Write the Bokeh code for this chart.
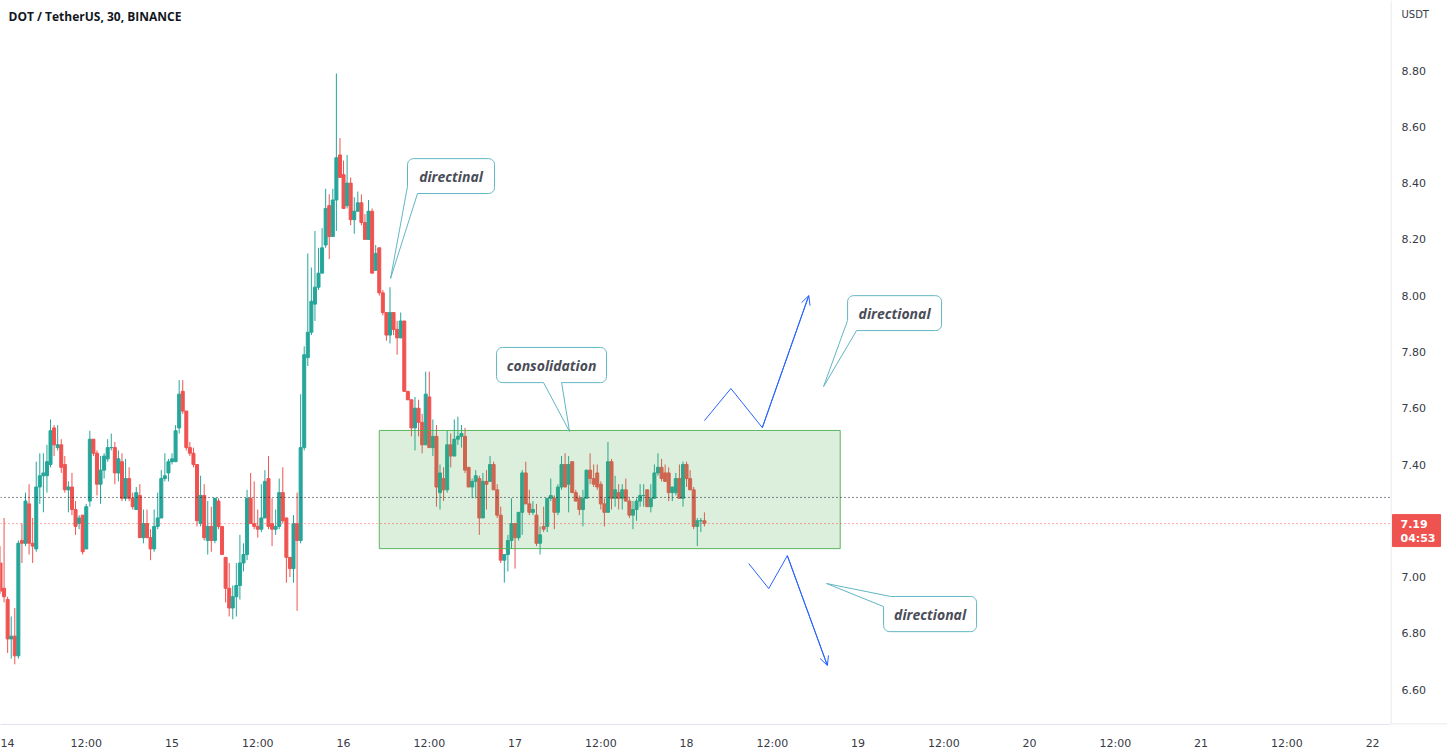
import numpy as np
from bokeh.plotting import figure
from bokeh.layouts import row
from bokeh.models import (Range1d, FixedTicker, Span, Label, Arrow, OpenHead,
                          ColumnDataSource)
from bokeh.core.properties import value
from bokeh.embed import file_html
from bokeh.resources import INLINE

# ---------------- data (DOT / TetherUS, 30 min, BINANCE) ----------------
# one candle per 30 minutes, first candle at day 14 00:00
opens = [
    7.05, 6.96, 6.92, 6.78, 6.79, 6.72, 7.13, 7.12, 7.26, 7.12,
    7.10, 7.32, 7.36, 7.36, 7.40, 7.53, 7.46, 7.47, 7.40, 7.31,
    7.32, 7.24, 7.19, 7.22, 7.10, 7.27, 7.49, 7.44, 7.33, 7.38,
    7.42, 7.46, 7.46, 7.37, 7.41, 7.28, 7.35, 7.28, 7.24, 7.29,
    7.14, 7.19, 7.14, 7.10, 7.18, 7.21, 7.35, 7.37, 7.41, 7.41,
    7.53, 7.66, 7.59, 7.46, 7.44, 7.40, 7.19, 7.29, 7.13, 7.18,
    7.13, 7.27, 7.18, 7.07, 6.96, 6.89, 6.93, 6.97, 7.05, 7.08,
    7.28, 7.19, 7.18, 7.17, 7.21, 7.35, 7.19, 7.17, 7.18, 7.30,
    7.21, 7.07, 7.03, 7.19, 7.13, 7.46, 7.78, 7.87, 7.97, 8.03,
    8.08, 8.18, 8.32, 8.21, 8.34, 8.50, 8.43, 8.32, 8.40, 8.27,
    8.30, 8.33, 8.26, 8.20, 8.30, 8.09, 8.17, 8.01, 7.94, 7.86,
    7.94, 7.88, 7.85, 7.91, 7.66, 7.63, 7.53, 7.60, 7.55, 7.47,
    7.64, 7.46, 7.50, 7.30, 7.35, 7.31, 7.47, 7.43, 7.49, 7.50,
    7.50, 7.39, 7.32, 7.34, 7.35, 7.21, 7.34, 7.34, 7.40, 7.31,
    7.22, 7.06, 7.08, 7.13, 7.19, 7.14, 7.23, 7.37, 7.26, 7.23,
    7.22, 7.12, 7.18, 7.18, 7.28, 7.28, 7.23, 7.32, 7.40, 7.33,
    7.41, 7.30, 7.28, 7.24, 7.28, 7.38, 7.35, 7.37, 7.33, 7.26,
    7.23, 7.41, 7.28, 7.30, 7.28, 7.31, 7.27, 7.22, 7.24, 7.27,
    7.29, 7.31, 7.25, 7.28, 7.37, 7.39, 7.37, 7.37, 7.30, 7.30,
    7.35, 7.28, 7.40, 7.35, 7.31, 7.18, 7.20, 7.20,
]
highs = [
    7.11, 7.21, 6.93, 6.86, 6.89, 7.13, 7.19, 7.30, 7.33, 7.21,
    7.41, 7.44, 7.44, 7.47, 7.56, 7.54, 7.54, 7.49, 7.43, 7.34,
    7.37, 7.27, 7.22, 7.22, 7.26, 7.52, 7.49, 7.45, 7.43, 7.44,
    7.49, 7.51, 7.48, 7.45, 7.44, 7.42, 7.39, 7.30, 7.32, 7.33,
    7.24, 7.24, 7.17, 7.24, 7.30, 7.38, 7.44, 7.42, 7.44, 7.54,
    7.70, 7.70, 7.59, 7.48, 7.46, 7.40, 7.36, 7.33, 7.27, 7.25,
    7.28, 7.28, 7.18, 7.07, 7.05, 6.97, 7.05, 7.15, 7.12, 7.31,
    7.37, 7.34, 7.24, 7.33, 7.38, 7.43, 7.28, 7.24, 7.35, 7.39,
    7.21, 7.07, 7.22, 7.30, 7.65, 7.82, 8.15, 8.10, 8.23, 8.17,
    8.24, 8.38, 8.36, 8.38, 8.79, 8.56, 8.48, 8.50, 8.42, 8.35,
    8.37, 8.36, 8.29, 8.34, 8.31, 8.18, 8.17, 8.02, 7.94, 8.03,
    7.94, 7.91, 7.94, 7.91, 7.66, 7.63, 7.64, 7.63, 7.58, 7.73,
    7.73, 7.56, 7.54, 7.40, 7.39, 7.52, 7.51, 7.56, 7.57, 7.54,
    7.53, 7.39, 7.35, 7.38, 7.36, 7.37, 7.38, 7.43, 7.41, 7.33,
    7.25, 7.08, 7.15, 7.28, 7.19, 7.23, 7.38, 7.41, 7.31, 7.27,
    7.26, 7.18, 7.25, 7.28, 7.35, 7.29, 7.33, 7.43, 7.44, 7.43,
    7.41, 7.31, 7.29, 7.31, 7.38, 7.44, 7.40, 7.40, 7.34, 7.28,
    7.48, 7.42, 7.36, 7.33, 7.33, 7.35, 7.28, 7.27, 7.28, 7.33,
    7.33, 7.31, 7.33, 7.40, 7.44, 7.42, 7.40, 7.39, 7.32, 7.37,
    7.40, 7.41, 7.41, 7.38, 7.32, 7.21, 7.21, 7.23,
]
lows = [
    6.94, 6.91, 6.73, 6.71, 6.69, 6.71, 7.05, 7.11, 7.08, 7.05,
    7.09, 7.26, 7.23, 7.30, 7.39, 7.43, 7.45, 7.37, 7.30, 7.23,
    7.22, 7.15, 7.17, 7.08, 7.10, 7.25, 7.43, 7.29, 7.26, 7.35,
    7.41, 7.45, 7.33, 7.34, 7.27, 7.27, 7.27, 7.24, 7.24, 7.14,
    7.12, 7.14, 7.06, 7.09, 7.17, 7.21, 7.34, 7.34, 7.40, 7.41,
    7.51, 7.58, 7.45, 7.43, 7.39, 7.18, 7.18, 7.13, 7.08, 7.09,
    7.12, 7.17, 7.08, 6.91, 6.86, 6.85, 6.86, 6.92, 7.02, 7.06,
    7.19, 7.17, 7.14, 7.16, 7.21, 7.17, 7.11, 7.15, 7.17, 7.19,
    6.98, 7.00, 6.98, 6.88, 7.12, 7.45, 7.75, 7.86, 7.91, 8.02,
    8.08, 8.17, 8.13, 8.21, 8.23, 8.42, 8.31, 8.31, 8.25, 8.22,
    8.30, 8.25, 8.20, 8.20, 8.08, 8.09, 8.00, 7.93, 7.84, 7.83,
    7.86, 7.79, 7.85, 7.66, 7.63, 7.50, 7.45, 7.50, 7.44, 7.47,
    7.46, 7.43, 7.25, 7.24, 7.27, 7.30, 7.39, 7.43, 7.47, 7.46,
    7.37, 7.32, 7.28, 7.28, 7.15, 7.21, 7.24, 7.34, 7.31, 7.21,
    7.05, 6.98, 7.02, 7.10, 7.03, 7.13, 7.15, 7.26, 7.22, 7.22,
    7.11, 7.08, 7.16, 7.16, 7.27, 7.17, 7.22, 7.31, 7.32, 7.23,
    7.30, 7.27, 7.22, 7.18, 7.28, 7.33, 7.32, 7.31, 7.24, 7.18,
    7.23, 7.24, 7.25, 7.24, 7.24, 7.27, 7.21, 7.17, 7.20, 7.25,
    7.25, 7.25, 7.23, 7.28, 7.36, 7.34, 7.34, 7.27, 7.27, 7.29,
    7.28, 7.25, 7.32, 7.31, 7.17, 7.11, 7.16, 7.18,
]
closes = [
    6.95, 6.93, 6.78, 6.79, 6.72, 7.12, 7.12, 7.27, 7.12, 7.11,
    7.32, 7.36, 7.37, 7.41, 7.52, 7.47, 7.47, 7.39, 7.31, 7.32,
    7.24, 7.18, 7.21, 7.09, 7.25, 7.49, 7.44, 7.33, 7.38, 7.43,
    7.46, 7.46, 7.37, 7.42, 7.28, 7.35, 7.28, 7.25, 7.30, 7.14,
    7.19, 7.14, 7.10, 7.18, 7.21, 7.35, 7.36, 7.41, 7.42, 7.52,
    7.65, 7.59, 7.46, 7.44, 7.40, 7.20, 7.29, 7.14, 7.18, 7.13,
    7.28, 7.18, 7.08, 6.96, 6.89, 6.93, 6.97, 7.05, 7.08, 7.28,
    7.19, 7.18, 7.17, 7.21, 7.34, 7.18, 7.17, 7.18, 7.30, 7.20,
    7.07, 7.03, 7.19, 7.13, 7.46, 7.79, 7.87, 7.98, 8.03, 8.08,
    8.17, 8.31, 8.21, 8.34, 8.49, 8.42, 8.31, 8.40, 8.27, 8.30,
    8.33, 8.26, 8.20, 8.30, 8.08, 8.15, 8.01, 7.94, 7.86, 7.94,
    7.88, 7.85, 7.91, 7.66, 7.63, 7.53, 7.60, 7.55, 7.47, 7.65,
    7.46, 7.50, 7.32, 7.37, 7.31, 7.47, 7.43, 7.49, 7.50, 7.51,
    7.38, 7.32, 7.34, 7.36, 7.21, 7.34, 7.33, 7.40, 7.31, 7.22,
    7.06, 7.08, 7.13, 7.19, 7.14, 7.23, 7.37, 7.26, 7.23, 7.24,
    7.12, 7.15, 7.17, 7.28, 7.29, 7.23, 7.32, 7.40, 7.32, 7.40,
    7.30, 7.27, 7.24, 7.28, 7.38, 7.35, 7.33, 7.32, 7.26, 7.23,
    7.41, 7.28, 7.31, 7.28, 7.31, 7.27, 7.22, 7.24, 7.27, 7.29,
    7.29, 7.25, 7.28, 7.37, 7.39, 7.35, 7.34, 7.30, 7.32, 7.35,
    7.28, 7.40, 7.35, 7.31, 7.18, 7.20, 7.20, 7.19,
]
assert len(opens) == len(highs) == len(lows) == len(closes)

bar_hours = 0.5  # 30-minute candles, x axis in hours from day 14 00:00

# axis ticks
time_ticks = [0, 12, 24, 36, 48, 60, 72, 84, 96, 108, 120, 132, 144, 156, 168, 180, 192]
time_labels = ["14", "12:00", "15", "12:00", "16", "12:00", "17", "12:00", "18",
               "12:00", "19", "12:00", "20", "12:00", "21", "12:00", "22"]
price_ticks = [6.6, 6.8, 7.0, 7.2, 7.4, 7.6, 7.8, 8.0, 8.2, 8.4, 8.6, 8.8]
price_currency = "USDT"

last_price = 7.19
countdown = "04:53"
ref_price = 7.283

# drawings
zone_left, zone_right, zone_bottom, zone_top = 53.0, 117.5, 7.101, 7.521
up_path_x = [98.5, 102.2, 106.6, 113.1]
up_path_y = [7.556, 7.670, 7.531, 8.000]
down_path_x = [104.7, 107.5, 110.1, 115.7]
down_path_y = [7.048, 6.959, 7.076, 6.686]

callout_texts = ["directinal", "consolidation", "directional", "directional"]
callout_boxes = [  # left, right, bottom, top
    (56.95, 69.13, 8.363, 8.487),
    (69.41, 84.80, 7.691, 7.816),
    (118.53, 131.68, 7.876, 8.000),
    (123.57, 136.58, 6.806, 6.931),
]
callout_tails = [  # kind, a, b, tip
    ("bl", 58.35, 8.388, (54.58, 8.061)),
    ("bottom", 75.99, 78.51, (79.63, 7.517)),
    ("bl", 119.79, 7.912, (115.17, 7.677)),
    ("tl", 124.55, 6.895, (115.59, 6.977)),
]

# ---------------- figures ----------------
W, H = 1447, 752
RIGHT, BOTTOM = 57, 28
X0, X1 = 0.0, 194.5
Y0, Y1 = 6.476, 9.049

UP, DOWN = "#26a69a", "#ef5350"
BLUE = "#2962ff"
CALLOUT = "#62b6c4"
TXT = "#363a45"
GRIDLINE = "#e0e3eb"

yr = Range1d(Y0, Y1)
p = figure(width=W - RIGHT, height=H, output_backend="svg", toolbar_location=None,
           x_range=Range1d(X0, X1), y_range=yr, y_axis_location=None,
           min_border_left=0, min_border_top=0, min_border_right=0,
           min_border_bottom=BOTTOM,
           background_fill_color="white", border_fill_color="white")
p.outline_line_color = None
p.xgrid.visible = False
p.ygrid.visible = False

PXH = (W - RIGHT) / (X1 - X0)
PXP = (H - BOTTOM) / (Y1 - Y0)

# candles
o = np.array(opens); h = np.array(highs); l = np.array(lows); c = np.array(closes)
x = np.arange(len(o)) * bar_hours
cols = [UP if cc >= oo else DOWN for oo, cc in zip(o, c)]
src = ColumnDataSource(dict(x=x, o=o, h=h, l=l, c=c,
                            top=np.maximum(o, c), bot=np.minimum(o, c), col=cols))
p.segment(x0="x", y0="l", x1="x", y1="h", color="col", line_width=1, source=src)
p.vbar(x="x", width=0.42, top="top", bottom="bot", fill_color="col",
       line_color="col", line_width=1, source=src)

# price lines
p.add_layout(Span(location=ref_price, dimension="width", line_color="#131722",
                  line_dash="1 3", line_width=1))
p.add_layout(Span(location=last_price, dimension="width", line_color=DOWN,
                  line_dash="1 3", line_width=1))

# consolidation zone
p.quad(left=[zone_left], right=[zone_right], bottom=[zone_bottom], top=[zone_top],
       fill_color="#4caf50", fill_alpha=0.2, line_color="#4caf50", line_alpha=0.9,
       line_width=1)

# projected paths
p.line(up_path_x, up_path_y, line_color=BLUE, line_width=1)
p.line(down_path_x, down_path_y, line_color=BLUE, line_width=1)
for px_, py_ in ((up_path_x, up_path_y), (down_path_x, down_path_y)):
    p.add_layout(Arrow(end=OpenHead(size=9, line_color=BLUE, line_width=1),
                       x_start=px_[-2], y_start=py_[-2], x_end=px_[-1], y_end=py_[-1],
                       line_color=BLUE, line_width=1))

# callouts
RX, RY = 6 / PXH, 6 / PXP


def arc(cx, cy, a0, a1, n=7):
    return [(cx + RX * np.cos(np.radians(a)), cy + RY * np.sin(np.radians(a)))
            for a in np.linspace(a0, a1, n)]


def callout_path(box, tail):
    L, R, B, T = box
    kind, a, b, tip = tail
    pts = []
    if kind == "tl":
        pts.append((a, T))
    else:
        pts += arc(L + RX, T - RY, 180, 90)
    pts.append((R - RX, T))
    pts += arc(R - RX, T - RY, 90, 0)
    pts += arc(R - RX, B + RY, 0, -90)
    if kind == "bottom":
        pts += [(b, B), tip, (a, B)]
    if kind == "bl":
        pts += [(a, B), tip, (L, b)]
    else:
        pts += arc(L + RX, B + RY, -90, -180)
    if kind == "tl":
        pts += [(L, b), tip]
    xs, ys = zip(*pts)
    return list(xs), list(ys)


for box, tail in zip(callout_boxes, callout_tails):
    xs, ys = callout_path(box, tail)
    p.patch(xs, ys, fill_color="white", line_color=CALLOUT, line_width=1)

p.text(x=[(b[0] + b[1]) / 2 for b in callout_boxes],
       y=[(b[2] + b[3]) / 2 for b in callout_boxes],
       text=callout_texts, text_font=value("Open Sans"), text_font_style="bold italic",
       text_font_size="14px", text_align="center", text_baseline="middle",
       text_color="#4a4d57")

# title
p.add_layout(Label(x=8, y=H - BOTTOM - 16, x_units="screen", y_units="screen",
                   text="DOT / TetherUS, 30, BINANCE", text_font="Open Sans",
                   text_font_style="bold", text_font_size="12px", text_color="#131722",
                   text_baseline="middle"))

# time axis
p.xaxis.ticker = FixedTicker(ticks=time_ticks)
p.xaxis.major_label_overrides = {t: s for t, s in zip(time_ticks, time_labels)}
p.xaxis.major_label_text_font = "DejaVu Sans"
p.xaxis.major_label_text_font_size = "11px"
p.xaxis.major_label_text_color = TXT
p.xaxis.major_tick_line_color = None
p.xaxis.minor_tick_line_color = None
p.xaxis.axis_line_color = GRIDLINE
p.xaxis.major_label_standoff = 6

# ---------------- price scale panel ----------------
pa = figure(width=RIGHT, height=H, output_backend="svg", toolbar_location=None,
            x_range=Range1d(0, RIGHT), y_range=yr,
            x_axis_location=None, y_axis_location=None,
            min_border_left=0, min_border_top=0, min_border_right=0,
            min_border_bottom=BOTTOM,
            background_fill_color="white", border_fill_color="white")
pa.outline_line_color = None
pa.xgrid.visible = False
pa.ygrid.visible = False
pa.add_layout(Span(location=0.5, dimension="height", line_color=GRIDLINE, line_width=1))
pa.add_layout(Span(location=Y0 + 0.5 / PXP, dimension="width", line_color=GRIDLINE,
                   line_width=1))
pa.text(x=[11] * len(price_ticks), y=price_ticks,
        text=[f"{t:.2f}" for t in price_ticks], text_font=value("DejaVu Sans"),
        text_font_size="11px", text_color=TXT, text_align="left", text_baseline="middle")
pa.text(x=[11], y=[Y1 - 14 / PXP], text=[price_currency], text_font=value("DejaVu Sans"),
        text_font_size="10px", text_color=TXT, text_align="left", text_baseline="middle")
pa.quad(left=[2], right=[50], top=[last_price + 9 / PXP], bottom=[last_price - 23 / PXP],
        fill_color=DOWN, line_color=DOWN)
pa.text(x=[10, 10], y=[last_price, last_price - 15 / PXP],
        text=[f"{last_price:.2f}", countdown], text_font=value("DejaVu Sans"),
        text_font_size="11px", text_font_style="bold", text_color="white",
        text_align="left", text_baseline="middle")

layout = row(p, pa, spacing=0)
open("out.html", "w").write(file_html(layout, INLINE))
